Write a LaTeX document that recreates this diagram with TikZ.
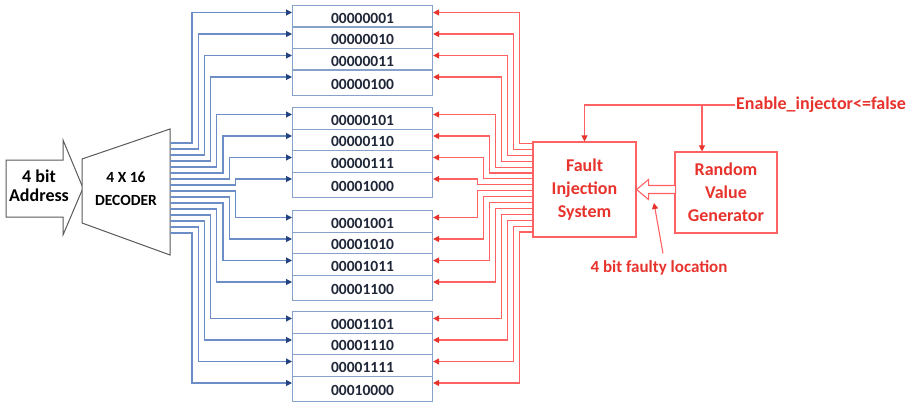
\documentclass[tikz,border=0pt]{standalone}
\usepackage{fontspec}
\setmainfont{Carlito}
\usetikzlibrary{arrows.meta,calc}
\definecolor{wire}{HTML}{6C8DC6}
\definecolor{navy}{HTML}{23427F}
\definecolor{cell}{HTML}{86A2CB}
\definecolor{ink}{HTML}{1E2637}
\definecolor{fault}{HTML}{FF6262}
\definecolor{faulttxt}{HTML}{E8332D}
\definecolor{edge}{HTML}{5A5A5A}

\begin{document}
\begin{tikzpicture}[x=1pt, y=-1pt,
  font=\bfseries,
  word/.style={draw=cell, line width=1.1pt, minimum width=140pt, anchor=north west,
               inner sep=0pt, text height=14pt, text depth=0pt, text=ink,
               font=\bfseries\fontsize{15.5}{17}\selectfont},
  blk/.style={draw=edge, line width=1pt, fill=white},
  fbox/.style={draw=fault, line width=1.1pt, align=center, inner sep=0pt, text=faulttxt,
               font=\bfseries\fontsize{18}{23}\selectfont},
  lbl/.style={text=faulttxt, inner sep=1pt, font=\bfseries\fontsize{18}{20}\selectfont},
  bw/.style={draw=wire, line width=1.1pt, -{Triangle[length=6pt, width=6pt, color=navy]}},
  rw/.style={draw=fault, line width=1.1pt, -{Triangle[length=6pt, width=6pt, color=faulttxt]}},
]
\useasboundingbox (0,0) rectangle (918,404);

% address in, decoder
\draw[blk] (6,160) -- (63,160) -- (63,140) -- (83,188) -- (63,235) -- (63,217) -- (6,217) -- cycle;
\node[align=center, font=\bfseries\fontsize{18}{19}\selectfont] (addr) at (39,186) {4 bit\\Address};
\draw[blk] (82,159) -- (170,129) -- (170,255) -- (82,223) -- cycle;
\node[align=center, font=\bfseries\fontsize{15.5}{23}\selectfont] (dec) at (126,189) {4 X 16\\DECODER};

% the sixteen memory words, four blocks of four
\foreach \i/\code/\yy/\hh in {1/00000001/5/21.5, 2/00000010/26.5/21.5, 3/00000011/48/21.5, 4/00000100/69.5/25,
    5/00000101/107/21.5, 6/00000110/128.5/21.5, 7/00000111/150/21.5, 8/00001000/171.5/25,
    9/00001001/210/21.5, 10/00001010/231.5/21.5, 11/00001011/253/21.5, 12/00001100/274.5/25,
    13/00001101/311/21.5, 14/00001110/332.5/21.5, 15/00001111/354/21.5, 16/00010000/375.5/25}{
  \node[word, minimum height=\hh pt] (m\i) at (292,\yy) {\code};
  \coordinate (bi\i) at ($(m\i.north west)+(0,7.5)$);
  \coordinate (ri\i) at ($(m\i.north east)+(0,7.5)$);
}

% decoder lines
\foreach \i in {1,...,16}{
  \coordinate (d\i) at (170,{143+6*(\i-1)});
  \pgfmathsetmacro\len{\i<9 ? 22+6.2*(\i-1) : 22+6.2*(16-\i)}
  \draw[bw] (d\i) -- ++(\len,0) |- (bi\i);
}

% fault side
\node[fbox, minimum width=103pt, minimum height=95pt] (fis) at (584.5,189.5) {Fault\\Injection\\System};
\node[fbox, minimum width=102pt, minimum height=81pt] (rvg) at (726,192.5) {Random\\Value\\Generator};

\foreach \i in {1,...,16}{
  \coordinate (f\i) at ($(fis.north west)+(0,{2+5.9*(\i-1)})$);
  \pgfmathsetmacro\len{\i<9 ? 13+6*(\i-1) : 55-6*(\i-9)}
  \draw[rw] (f\i) -- ++(-\len,0) |- (ri\i);
}

\node[lbl, anchor=west] (en) at (735,105) {Enable\_injector<=false};
\coordinate (rv) at ([xshift=-24pt]rvg.north);
\draw[rw] (en.west) -| (fis.north);
\draw[rw] (rv |- en.west) -- (rv);

\draw[draw=fault, line width=1.1pt, fill=white] (fis.east) -- ++(12,-10) -- ++(0,6) -- ++(27,0)
  -- ++(0,8) -- ++(-27,0) -- ++(0,6) -- cycle;

\node[lbl, font=\bfseries\fontsize{17}{19}\selectfont] (loc) at (659,268) {4 bit faulty location};
\coordinate (lp) at (654,203);
\draw[rw] ([shift={(4,-6)}]loc.north) -- (lp);

\end{tikzpicture}
\end{document}
